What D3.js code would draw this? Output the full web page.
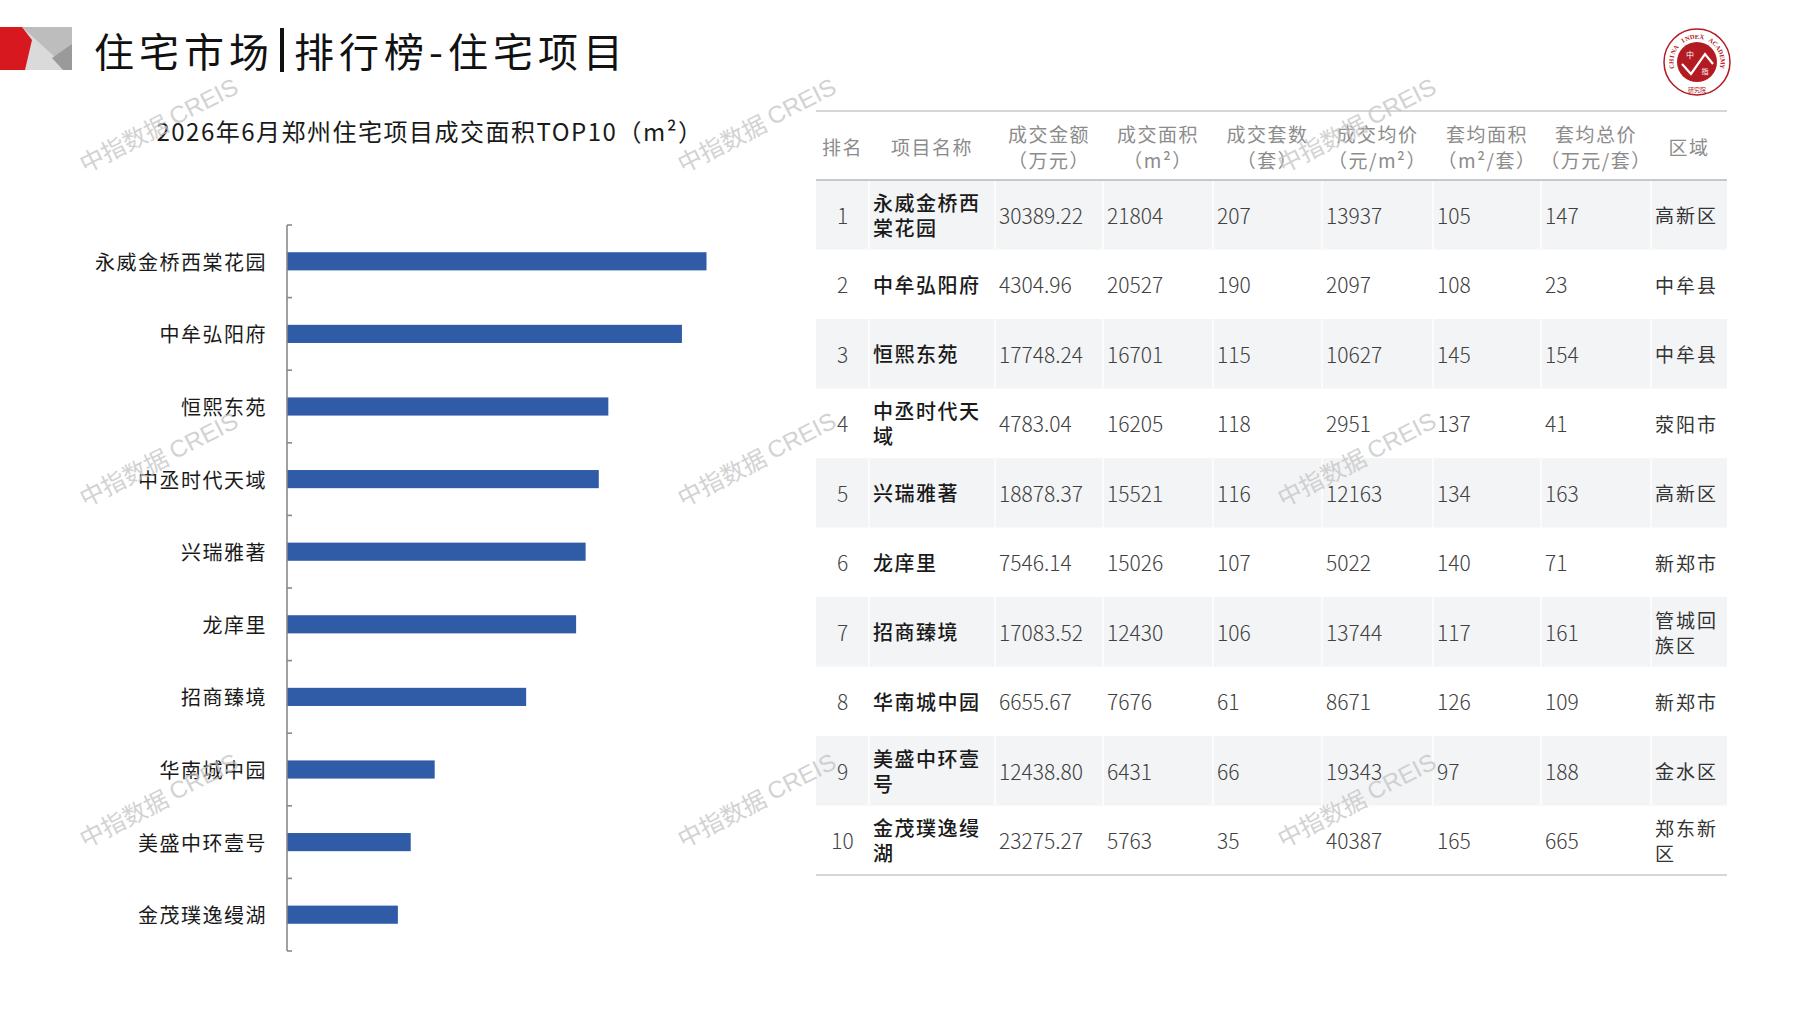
<!DOCTYPE html>
<html lang="zh">
<head>
<meta charset="utf-8">
<title>住宅市场|排行榜-住宅项目</title>
<script src="https://cdn.jsdelivr.net/npm/d3@7"></script>
<style>
  body { margin: 0; background: #fff; }
  svg { display: block; font-family: "Noto Sans CJK SC", sans-serif; }
  .barlabel { font-size: 20px; fill: #1a1a1a; letter-spacing: 1.5px; }
  .head { font-size: 19px; fill: #8c8c8c; letter-spacing: 1.5px; }
  .cell { font-size: 21px; fill: #404040; font-weight: 300; }
  .name { font-size: 20px; fill: #1a1a1a; font-weight: 500; letter-spacing: 1.5px; }
  .district { font-size: 19px; fill: #333; letter-spacing: 2px; }
  .wm { font-size: 24px; fill: #c4c4c4; opacity: 0.75; }
</style>
</head>
<body>
<div id="chart"></div>
<script>
// ---- data ----
const ranks = [1, 2, 3, 4, 5, 6, 7, 8, 9, 10];
const projects = ["永威金桥西棠花园", "中牟弘阳府", "恒熙东苑", "中丞时代天域", "兴瑞雅著",
                  "龙庠里", "招商臻境", "华南城中园", "美盛中环壹号", "金茂璞逸缦湖"];
const amounts = [30389.22, 4304.96, 17748.24, 4783.04, 18878.37, 7546.14, 17083.52, 6655.67, 12438.80, 23275.27];
const areas = [21804, 20527, 16701, 16205, 15521, 15026, 12430, 7676, 6431, 5763];
const units = [207, 190, 115, 118, 116, 107, 106, 61, 66, 35];
const prices = [13937, 2097, 10627, 2951, 12163, 5022, 13744, 8671, 19343, 40387];
const avgAreas = [105, 108, 145, 137, 134, 140, 117, 126, 97, 165];
const avgTotals = [147, 23, 154, 41, 163, 71, 161, 109, 188, 665];
const districts = ["高新区", "中牟县", "中牟县", "荥阳市", "高新区", "新郑市", "管城回族区", "新郑市", "金水区", "郑东新区"];
const headers = [["排名"], ["项目名称"], ["成交金额", "（万元）"], ["成交面积", "（m²）"], ["成交套数", "（套）"],
                 ["成交均价", "（元/m²）"], ["套均面积", "（m²/套）"], ["套均总价", "（万元/套）"], ["区域"]];
const xTicks = [0, 25000];

const W = 1797, H = 1010;
const svg = d3.select("#chart").append("svg").attr("width", W).attr("height", H);

// ---- page header ----
const badge = svg.append("g");
badge.append("rect").attr("x", 22).attr("y", 27).attr("width", 50).attr("height", 43).attr("fill", "#dadada");
badge.append("polygon").attr("points", "22,27 72,27 72,44 56,58").attr("fill", "#bdbdbd");
badge.append("polygon").attr("points", "72,44 72,70 63,70 52,58").attr("fill", "#9a9a9a");
badge.append("polygon").attr("points", "0,27 22,27 32,40 25,70 0,70").attr("fill", "#d7191f");

svg.append("text")
  .attr("x", 94).attr("y", 50)
  .attr("dominant-baseline", "central")
  .style("font-size", "40px").style("letter-spacing", "5px").style("fill", "#111")
  .text("住宅市场");
svg.append("rect").attr("x", 280).attr("y", 28).attr("width", 4).attr("height", 44).attr("fill", "#111");
svg.append("text")
  .attr("x", 294).attr("y", 50)
  .attr("dominant-baseline", "central")
  .style("font-size", "40px").style("letter-spacing", "5px").style("fill", "#111")
  .text("排行榜-住宅项目");

// logo: ring letters placed one by one so each stays a small text
const logo = svg.append("g").attr("transform", "translate(1697,62)");
logo.append("circle").attr("r", 33).attr("fill", "#fff").attr("stroke", "#b31b22").attr("stroke-width", 1.5);
logo.append("circle").attr("r", 20).attr("fill", "#b31b22");
const ring = "CHINA INDEX ACADEMY".split("");
const ang = d3.scaleLinear().domain([0, ring.length - 1]).range([-100, 100]);
logo.append("g").selectAll("text")
  .data(ring)
  .join("text")
  .attr("transform", (d, i) => `rotate(${ang(i)}) translate(0,-26)`)
  .attr("text-anchor", "middle").attr("dominant-baseline", "central")
  .style("font-size", "6.5px").style("font-family", "'Liberation Serif', serif")
  .style("font-weight", "bold").style("fill", "#b31b22")
  .text(d => d);
logo.append("polyline").attr("points", "-15,2 -6,12 8,-8 16,2")
  .attr("fill", "none").attr("stroke", "#fff").attr("stroke-width", 2.2);
logo.append("text").attr("x", -7).attr("y", -8).attr("text-anchor", "middle").attr("dominant-baseline", "central")
  .style("font-size", "8px").style("fill", "#fff").text("中");
logo.append("text").attr("x", 8).attr("y", 9).attr("text-anchor", "middle").attr("dominant-baseline", "central")
  .style("font-size", "7px").style("fill", "#fff").text("指");
logo.append("text").attr("y", 27).attr("text-anchor", "middle").attr("dominant-baseline", "central")
  .style("font-size", "6px").style("fill", "#b31b22").text("研究院");

// ---- bar chart ----
svg.append("text")
  .attr("x", 430).attr("y", 130)
  .attr("text-anchor", "middle").attr("dominant-baseline", "central")
  .style("font-size", "24px").style("letter-spacing", "1.5px").style("fill", "#1a1a1a")
  .text("2026年6月郑州住宅项目成交面积TOP10（m²）");

const x = d3.scaleLinear().domain(d3.extent(xTicks)).range([287, 768]);
const y = d3.scaleBand().domain(projects).range([225, 951]).paddingInner(0.75).paddingOuter(0.375);

svg.append("g").selectAll("rect")
  .data(projects)
  .join("rect")
  .attr("x", x(0))
  .attr("y", d => y(d))
  .attr("width", (d, i) => x(areas[i]) - x(0))
  .attr("height", y.bandwidth())
  .attr("fill", "#2f5ba7");

// category axis: line + ticks on band boundaries, pointing right
const [y0, y1] = y.range();
const axis = svg.append("g").attr("stroke", "#8a8a8a");
axis.append("line").attr("x1", x(0)).attr("x2", x(0)).attr("y1", y0).attr("y2", y1).attr("stroke-width", 1.6);
axis.selectAll(".tick")
  .data(d3.range(projects.length + 1))
  .join("line")
  .attr("x1", x(0)).attr("x2", x(0) + 5)
  .attr("y1", i => y0 + i * y.step())
  .attr("y2", i => y0 + i * y.step())
  .attr("stroke-width", 1.6);

svg.append("g").selectAll("text")
  .data(projects)
  .join("text")
  .attr("class", "barlabel")
  .attr("x", x(0) - 20)
  .attr("y", d => y(d) + y.bandwidth() / 2)
  .attr("text-anchor", "end")
  .attr("dominant-baseline", "central")
  .text(d => d);

// ---- table ----
const colX = [816, 869, 995, 1103, 1213, 1322, 1433, 1541, 1651, 1727];
const rowY = d3.scaleBand().domain(ranks).range([180, 875]);
const table = svg.append("g");

table.selectAll(".shade")
  .data(ranks.filter(r => r % 2 === 1))
  .join("rect")
  .attr("x", colX[0]).attr("width", colX[colX.length - 1] - colX[0])
  .attr("y", d => rowY(d)).attr("height", rowY.bandwidth())
  .attr("fill", "#f3f4f6");

// faint column separators inside shaded rows
ranks.filter(r => r % 2 === 1).forEach(r => {
  table.append("g").selectAll("line")
    .data(colX.slice(1, -1))
    .join("line")
    .attr("x1", d => d).attr("x2", d => d)
    .attr("y1", rowY(r)).attr("y2", rowY(r) + rowY.bandwidth())
    .attr("stroke", "#fbfbfc").attr("stroke-width", 2);
});

[111, 180, 875].forEach((ly, i) => {
  table.append("line")
    .attr("x1", colX[0]).attr("x2", colX[colX.length - 1])
    .attr("y1", ly).attr("y2", ly)
    .attr("stroke", "#c8c8c8").attr("stroke-width", i === 1 ? 2 : 1.5);
});

// header
headers.forEach((lines, c) => {
  const cx = (colX[c] + colX[c + 1]) / 2;
  lines.forEach((t, k) => {
    table.append("text")
      .attr("class", "head")
      .attr("x", cx)
      .attr("y", lines.length === 1 ? 146 : 133 + k * 26)
      .attr("text-anchor", "middle")
      .attr("dominant-baseline", "central")
      .text(t);
  });
});

function wrap(str, n) {
  const out = [];
  for (let i = 0; i < str.length; i += n) out.push(str.slice(i, i + n));
  return out;
}

function multiLine(g, cls, xPos, cy, lines, lh) {
  const top = cy - (lines.length - 1) * lh / 2;
  lines.forEach((t, k) => {
    g.append("text").attr("class", cls)
      .attr("x", xPos).attr("y", top + k * lh)
      .attr("dominant-baseline", "central")
      .text(t);
  });
}

ranks.forEach((r, i) => {
  const cy = rowY(r) + rowY.bandwidth() / 2;
  table.append("text").attr("class", "cell")
    .attr("x", (colX[0] + colX[1]) / 2).attr("y", cy)
    .attr("text-anchor", "middle").attr("dominant-baseline", "central")
    .style("fill", "#444")
    .text(r);
  multiLine(table, "name", colX[1] + 4, cy, wrap(projects[i], 5), 25);
  const vals = [amounts[i].toFixed(2), areas[i], units[i], prices[i], avgAreas[i], avgTotals[i]];
  vals.forEach((v, k) => {
    table.append("text").attr("class", "cell")
      .attr("x", colX[k + 2] + 4).attr("y", cy)
      .attr("dominant-baseline", "central")
      .text(v);
  });
  multiLine(table, "district", colX[8] + 4, cy, wrap(districts[i], 3), 25);
});

// ---- watermarks ----
const wmX = [158, 756, 1356], wmY = [124, 458, 799];
const wm = svg.append("g");
wmY.forEach(wy => wmX.forEach(wx => {
  const t = wm.append("text").attr("class", "wm")
    .attr("transform", `translate(${wx},${wy}) rotate(-27)`)
    .attr("text-anchor", "middle").attr("dominant-baseline", "central");
  t.append("tspan").text("中指数据 ");
  t.append("tspan").style("font-family", "'Liberation Sans', Arial, sans-serif").text("CREIS");
}));
</script>
</body>
</html>
